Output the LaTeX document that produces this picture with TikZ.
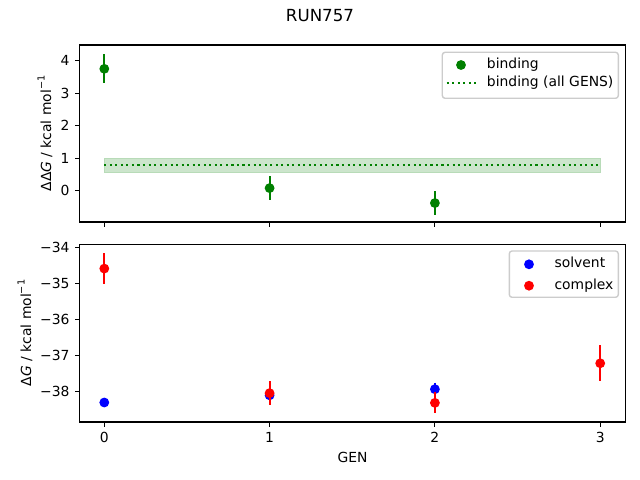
\documentclass[tikz,border=0pt]{standalone}
\usepackage{fontspec}
\setmainfont{DejaVu Sans}
\definecolor{mplgreen}{rgb}{0,0.5,0}
\definecolor{mplblue}{rgb}{0,0,1}
\definecolor{mplred}{rgb}{1,0,0}
\definecolor{legedge}{gray}{0.8}
\definecolor{bandfill}{rgb}{0.8,0.9,0.8}
\definecolor{bandedge}{rgb}{0.72,0.86,0.72}
\tikzset{
  spine/.style={line width=0.8pt, black},
  tickmark/.style={line width=0.8pt, black},
  ticklab/.style={font=\fontsize{10}{12}\selectfont, inner sep=0pt},
  leglab/.style={font=\fontsize{10}{12}\selectfont, inner sep=0pt, anchor=west, text height=7.6pt, text depth=2.4pt},
  legbox/.style={draw=legedge, fill=white, fill opacity=0.8, line width=1pt, rounded corners=2pt},
  errbar/.style={line width=1.5pt},
  dot/.style={circle, inner sep=0pt, minimum size=6pt, line width=1pt, draw=#1, fill=#1},
  dotline/.style={mplgreen, line width=1.5pt, dash pattern=on 1.5pt off 2.48pt},
}
\newcommand{\supm}{\raisebox{0.85ex}{\fontsize{7}{8}\selectfont −1}}
\begin{document}
\begin{tikzpicture}[x=0.72pt, y=-0.72pt]
\useasboundingbox (0,0) rectangle (640,480);
% title
\node[font=\fontsize{12}{14}\selectfont, inner sep=0pt] (title) at (320,16) {RUN757};

% ===== top axes =====
\coordinate (tA) at (79.5,45);
\coordinate (tB) at (625.5,222);
% band (fill_between)
\fill[bandfill, draw=bandedge, line width=0.5pt] (104.3,158.3) rectangle (600.2,172);
% dotted line
\coordinate (dl0) at (104.3,164.7);
\coordinate (dl1) at (600.2,164.7);
\draw[dotline] (dl0) -- (dl1);
% error bars binding
\foreach \g/\v/\e in {0/3.75/0.45, 1/0.08/0.37, 2/-0.38/0.36}{
  \pgfmathsetmacro{\px}{104.3+165.3*\g}
  \pgfmathsetmacro{\pya}{190.7-32.5*(\v+\e)}
  \pgfmathsetmacro{\pyb}{190.7-32.5*(\v-\e)}
  \pgfmathsetmacro{\py}{190.7-32.5*\v}
  \draw[errbar, mplgreen] (\px,\pya) -- (\px,\pyb);
  \node[dot=mplgreen] (b\g) at (\px,\py) {};
}
\draw[spine] (tA) rectangle (tB);
% x ticks top (no labels)
\foreach \g in {0,1,2,3}{
  \pgfmathsetmacro{\px}{104.3+165.3*\g}
  \draw[tickmark] (\px,222) -- (\px,226.9);
}
% y ticks top
\foreach \v in {0,1,2,3,4}{
  \pgfmathsetmacro{\py}{190.7-32.5*\v}
  \draw[tickmark] (79.5,\py) -- (74.6,\py);
  \node[ticklab, anchor=east] (ty\v) at (69.8,\py) {\v};
}
\node[rotate=90, font=\fontsize{10}{12}\selectfont, inner sep=0pt] (ylabtop) at (45,133.5) {ΔΔ\textit{G} / kcal mol\supm};
% legend top
\draw[legbox] (442.3,52.3) rectangle (618.3,98.3);
\node[dot=mplgreen] (lg1) at (461,65) {};
\node[leglab] (lt1) at (486.7,65) {binding};
\coordinate (ld0) at (446.7,83.3);
\coordinate (ld1) at (475.5,83.3);
\draw[dotline] (ld0) -- (ld1);
\node[leglab] (lt2) at (486.7,83.3) {binding (all GENS)};

% ===== bottom axes =====
\coordinate (bA) at (79.5,244.7);
\coordinate (bB) at (625.5,422);
\foreach \g/\v/\e in {0/-38.30/0.04, 1/-38.10/0.1, 2/-37.93/0.18}{
  \pgfmathsetmacro{\px}{104.3+165.3*\g}
  \pgfmathsetmacro{\pya}{247.7+36*(-34-(\v+\e))}
  \pgfmathsetmacro{\pyb}{247.7+36*(-34-(\v-\e))}
  \pgfmathsetmacro{\py}{247.7+36*(-34-\v)}
  \draw[errbar, mplblue] (\px,\pya) -- (\px,\pyb);
  \node[dot=mplblue] (s\g) at (\px,\py) {};
}
\foreach \g/\v/\e in {0/-34.58/0.43, 1/-38.04/0.33, 2/-38.31/0.29, 3/-37.21/0.5}{
  \pgfmathsetmacro{\px}{104.3+165.3*\g}
  \pgfmathsetmacro{\pya}{247.7+36*(-34-(\v+\e))}
  \pgfmathsetmacro{\pyb}{247.7+36*(-34-(\v-\e))}
  \pgfmathsetmacro{\py}{247.7+36*(-34-\v)}
  \draw[errbar, mplred] (\px,\pya) -- (\px,\pyb);
  \node[dot=mplred] (c\g) at (\px,\py) {};
}
\draw[spine] (bA) rectangle (bB);
\foreach \g in {0,1,2,3}{
  \pgfmathsetmacro{\px}{104.3+165.3*\g}
  \draw[tickmark] (\px,422) -- (\px,426.9);
  \node[ticklab, anchor=north] (tx\g) at (\px,431.7) {\g};
}
\foreach \v in {34,35,36,37,38}{
  \pgfmathsetmacro{\py}{247.7+36*(\v-34)}
  \draw[tickmark] (79.5,\py) -- (74.6,\py);
  \node[ticklab, anchor=east] (by\v) at (69.8,\py) {−\v};
}
\node[rotate=90, font=\fontsize{10}{12}\selectfont, inner sep=0pt] (ylabbot) at (25,333) {Δ\textit{G} / kcal mol\supm};
\node[font=\fontsize{10}{12}\selectfont, inner sep=0pt] (xlab) at (352.5,457) {GEN};
% legend bottom
\draw[legbox] (509.3,251) rectangle (618.3,297.3);
\node[dot=mplblue] (lm1) at (529,264.3) {};
\node[leglab] (ls1) at (554.3,264.3) {solvent};
\node[dot=mplred] (lm2) at (529,285.7) {};
\node[leglab] (ls2) at (554.3,285.7) {complex};
\end{tikzpicture}
\end{document}
